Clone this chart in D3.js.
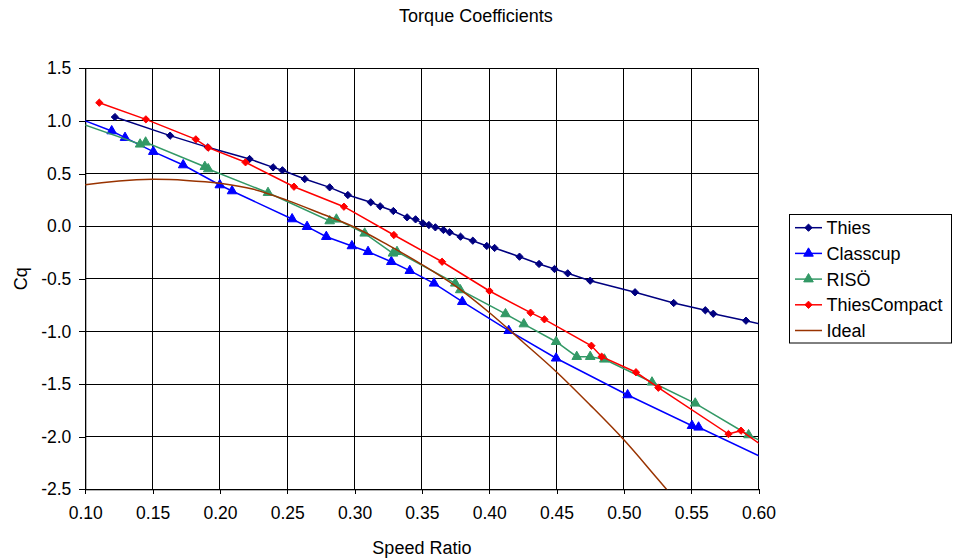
<!DOCTYPE html>
<html>
<head>
<meta charset="utf-8">
<script src="https://cdn.jsdelivr.net/npm/d3@7"></script>
<style>
  html, body { margin: 0; padding: 0; background: #fff; }
  svg { display: block; font-family: "Liberation Sans", Arial, sans-serif; }
</style>
</head>
<body>
<svg id="chart" width="954" height="559"></svg>
<script>
// ---------- data ----------
const seriesNames = ["Thies", "Classcup", "RISÖ", "ThiesCompact", "Ideal"];
const xTickValues = [0.10, 0.15, 0.20, 0.25, 0.30, 0.35, 0.40, 0.45, 0.50, 0.55, 0.60];
const xTickLabels = ["0.10", "0.15", "0.20", "0.25", "0.30", "0.35", "0.40", "0.45", "0.50", "0.55", "0.60"];
const yTickValues = [1.5, 1.0, 0.5, 0.0, -0.5, -1.0, -1.5, -2.0, -2.5];
const yTickLabels = ["1.5", "1.0", "0.5", "0.0", "-0.5", "-1.0", "-1.5", "-2.0", "-2.5"];

const thiesX = [0.122, 0.163, 0.191, 0.222, 0.2395, 0.2464, 0.263, 0.2815, 0.295, 0.312, 0.319, 0.3288, 0.339, 0.3453, 0.3507, 0.3552, 0.360, 0.366, 0.3706, 0.3787, 0.3878, 0.3982, 0.404, 0.4225, 0.437, 0.4485, 0.4583, 0.475, 0.5083, 0.537, 0.5605, 0.5664, 0.5907, 0.615];
const thiesY = [1.037, 0.860, 0.749, 0.638, 0.559, 0.531, 0.448, 0.369, 0.296, 0.227, 0.189, 0.144, 0.084, 0.065, 0.027, 0.011, -0.011, -0.036, -0.058, -0.100, -0.138, -0.188, -0.207, -0.290, -0.359, -0.407, -0.448, -0.518, -0.628, -0.730, -0.799, -0.832, -0.898, -0.97];

const classcupX = [0.09, 0.1196, 0.1295, 0.1505, 0.1727, 0.1999, 0.209, 0.2536, 0.2647, 0.279, 0.298, 0.310, 0.3273, 0.341, 0.359, 0.380, 0.4145, 0.4497, 0.5028, 0.5506, 0.5555, 0.61];
const classcupY = [1.05, 0.904, 0.841, 0.708, 0.581, 0.391, 0.334, 0.068, -0.005, -0.100, -0.188, -0.243, -0.338, -0.423, -0.543, -0.718, -0.993, -1.255, -1.604, -1.896, -1.911, -2.24];

const risoX = [0.09, 0.1407, 0.1448, 0.1888, 0.1913, 0.2357, 0.2815, 0.2865, 0.3075, 0.3285, 0.3315, 0.3748, 0.3785, 0.4121, 0.4257, 0.4497, 0.465, 0.475, 0.4855, 0.5209, 0.553, 0.5926, 0.61];
const risoY = [1.005, 0.778, 0.797, 0.565, 0.543, 0.318, 0.049, 0.065, -0.068, -0.258, -0.243, -0.543, -0.606, -0.834, -0.930, -1.098, -1.240, -1.240, -1.265, -1.483, -1.683, -1.984, -2.09];

const compactX = [0.1104, 0.145, 0.1821, 0.1913, 0.219, 0.255, 0.2921, 0.3292, 0.365, 0.4002, 0.4307, 0.441, 0.4759, 0.4835, 0.509, 0.5256, 0.5777, 0.587, 0.61];
const compactY = [1.173, 1.015, 0.825, 0.746, 0.607, 0.375, 0.185, -0.084, -0.338, -0.616, -0.822, -0.885, -1.136, -1.240, -1.388, -1.535, -1.975, -1.943, -2.15];

const idealX = [0.09, 0.10, 0.125, 0.15, 0.175, 0.20, 0.225, 0.25, 0.275, 0.30, 0.325, 0.35, 0.375, 0.40, 0.425, 0.45, 0.475, 0.50, 0.525, 0.545];
const idealY = [0.37, 0.394, 0.43, 0.445, 0.435, 0.407, 0.35, 0.245, 0.12, -0.01, -0.18, -0.365, -0.57, -0.82, -1.10, -1.385, -1.70, -2.03, -2.40, -2.70];

const seriesColors = ["#000080", "#0000FF", "#339966", "#FF0000", "#993300"];
const seriesMarkers = ["diamond", "triangle", "triangle", "diamond", "none"];
const seriesX = [thiesX, classcupX, risoX, compactX, idealX];
const seriesY = [thiesY, classcupY, risoY, compactY, idealY];

// ---------- layout ----------
const svg = d3.select("#chart");
const L = 85.3, R = 758.5, T = 68.3, B = 489.3;
const x = d3.scaleLinear().domain([0.10, 0.60]).range([L, R]);
const y = d3.scaleLinear().domain([-2.5, 1.5]).range([B, T]);

svg.append("defs").append("clipPath").attr("id", "plotclip")
  .append("rect").attr("x", L).attr("y", T).attr("width", R - L).attr("height", B - T);

// gridlines
const grid = svg.append("g").attr("shape-rendering", "crispEdges");
grid.selectAll("line.v").data(xTickValues).join("line")
  .attr("x1", d => x(d)).attr("x2", d => x(d)).attr("y1", T).attr("y2", B)
  .attr("stroke", "#000").attr("stroke-width", 1);
grid.selectAll("line.h").data(yTickValues).join("line")
  .attr("x1", L).attr("x2", R).attr("y1", d => y(d)).attr("y2", d => y(d))
  .attr("stroke", "#000").attr("stroke-width", 1);
grid.append("rect").attr("x", L).attr("y", T).attr("width", R - L).attr("height", B - T)
  .attr("fill", "none").attr("stroke", "#000").attr("stroke-width", 1);

// axes
const xAxis = d3.axisBottom(x).tickValues(xTickValues)
  .tickFormat((d, i) => xTickLabels[i]).tickSizeInner(5).tickSizeOuter(0).tickPadding(12);
const gx = svg.append("g").attr("transform", `translate(0,${B})`).call(xAxis);
const yAxis = d3.axisLeft(y).tickValues(yTickValues)
  .tickFormat((d, i) => yTickLabels[i]).tickSizeInner(6).tickSizeOuter(0).tickPadding(8);
const gy = svg.append("g").attr("transform", `translate(${L},0)`).call(yAxis);
[gx, gy].forEach(g => {
  g.select(".domain").attr("stroke", "#000");
  g.selectAll(".tick line").attr("stroke", "#000").attr("shape-rendering", "crispEdges");
  g.selectAll(".tick text").attr("fill", "#000").style("font-size", "17.5px")
    .style("font-family", "'Liberation Sans', Arial, sans-serif");
});
gx.selectAll(".tick text").attr("dy", "0.71em");

// series
const plot = svg.append("g").attr("clip-path", "url(#plotclip)");
const lineGen = d3.line().x(d => x(d[0])).y(d => y(d[1]));
const idealGen = d3.line().x(d => x(d[0])).y(d => y(d[1])).curve(d3.curveCatmullRom.alpha(0.5));

const diamond = d3.symbol().type(d3.symbolDiamond2).size(34)();
const triangle = d3.symbol().type(d3.symbolTriangle).size(40)();

seriesNames.forEach((name, si) => {
  const pts = seriesX[si].map((v, i) => [v, seriesY[si][i]]);
  plot.append("path").datum(pts)
    .attr("d", seriesMarkers[si] === "none" ? idealGen : lineGen)
    .attr("fill", "none").attr("stroke", seriesColors[si]).attr("stroke-width", 1.5);
  if (seriesMarkers[si] !== "none") {
    const inside = pts.filter(p => p[0] >= 0.10 && p[0] <= 0.60);
    plot.selectAll(null).data(inside).join("path")
      .attr("d", seriesMarkers[si] === "diamond" ? diamond : triangle)
      .attr("transform", d => `translate(${x(d[0])},${y(d[1])})`)
      .attr("fill", seriesColors[si]).attr("stroke", seriesColors[si]).attr("stroke-width", 1);
  }
});

// title & axis labels
svg.append("text").attr("x", 476).attr("y", 21.7).attr("text-anchor", "middle")
  .style("font-size", "18px").text("Torque Coefficients");
svg.append("text").attr("x", (L + R) / 2).attr("y", 554).attr("text-anchor", "middle")
  .style("font-size", "18px").text("Speed Ratio");
svg.append("text").attr("transform", `translate(27,${(T + B) / 2}) rotate(-90)`)
  .attr("text-anchor", "middle").style("font-size", "18px").text("Cq");

// legend
const lg = svg.append("g");
lg.append("rect").attr("x", 789.5).attr("y", 214.5).attr("width", 162).attr("height", 128.5)
  .attr("fill", "#fff").attr("stroke", "#000").attr("stroke-width", 1);
seriesNames.forEach((name, si) => {
  const ly = 227.7 + si * 25.7;
  lg.append("line").attr("x1", 795).attr("x2", 822).attr("y1", ly).attr("y2", ly)
    .attr("stroke", seriesColors[si]).attr("stroke-width", 1.5);
  if (seriesMarkers[si] !== "none") {
    lg.append("path").attr("d", seriesMarkers[si] === "diamond" ? diamond : triangle)
      .attr("transform", `translate(808.5,${ly})`)
      .attr("fill", seriesColors[si]).attr("stroke", seriesColors[si]).attr("stroke-width", 1);
  }
  lg.append("text").attr("x", 826.5).attr("y", ly + 6.5)
    .style("font-size", "18px").text(name);
});
</script>
</body>
</html>
